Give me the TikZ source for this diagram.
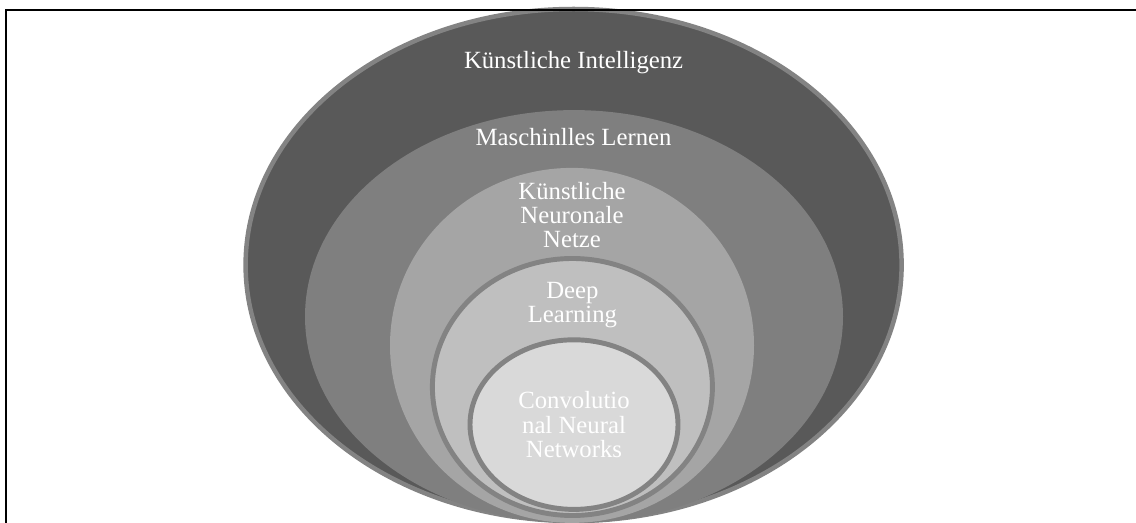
\documentclass[tikz,border=0pt]{standalone}
\usepackage{fontspec}
\setmainfont{Liberation Serif}
\usetikzlibrary{shapes.geometric}
\definecolor{kiGray}{HTML}{595959}
\definecolor{mlGray}{HTML}{7F7F7F}
\definecolor{knnGray}{HTML}{A5A5A5}
\definecolor{dlGray}{HTML}{BFBFBF}
\definecolor{cnnGray}{HTML}{D9D9D9}
\definecolor{ringGray}{HTML}{838383}
\begin{document}
\begin{tikzpicture}
\useasboundingbox (0,0) rectangle (28.4,13.075);
			\begin{scope}[every node/.style={ellipse,inner sep=0pt,outer sep=0pt}]
    \node[fill=kiGray, draw=ringGray, line width=3.2pt, minimum width=16.4cm, minimum height=12.8cm] (KI) at (14.34,6.45) {};
    \node[fill=mlGray, minimum width=13.45cm, minimum height=10.325cm] (ML) at (14.35,5.16) {};
    \node[fill=knnGray, minimum width=9.1cm, minimum height=8.875cm] (KNN) at (14.3,4.44) {};
    \node[fill=dlGray, draw=ringGray, line width=3.5pt, minimum width=7cm, minimum height=6.425cm] (DL) at (14.31,3.4) {};
    \node[fill=cnnGray, draw=ringGray, line width=3.5pt, minimum width=5.2cm, minimum height=4.24cm] (CNN) at (14.35,2.46) {};
			\end{scope}
			\begin{scope}[every node/.style={text=white, align=center, font=\fontsize{17.6}{17.3}\selectfont}]
    \node (kiText) at (14.34,11.5) {Künstliche Intelligenz};
    \node (mlText) at (14.34,9.64) {Maschinlles Lernen};
    \node (knnText) at (14.3,7.7) {Künstliche\\Neuronale\\Netze};
    \node (dlText) at (14.31,5.45) {Deep\\Learning};
    \node (cnnText) at (14.35,2.46) {Convolutio\\nal Neural\\Networks};
			\end{scope}
    \coordinate (frameBL) at (0.15,0);
    \coordinate (frameTR) at (28.4,12.825);
    \draw[line width=1.6pt] (frameBL) |- (frameTR);
		\end{tikzpicture}
\end{document}
